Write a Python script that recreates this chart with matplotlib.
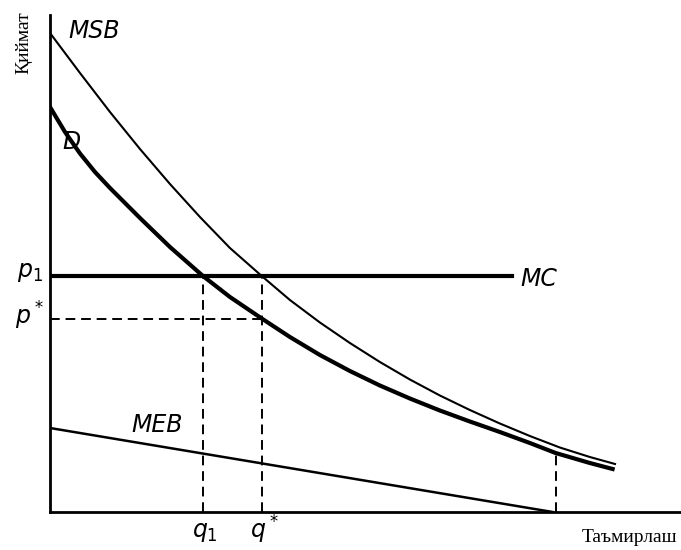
import numpy as np
from matplotlib import pyplot as plt

# kurvalar (miqdor q, narx p)
d_q = [0, 0.25, 0.5, 0.75, 1.0, 1.5, 2.0, 2.55, 3.0, 3.53, 4.0, 4.5, 5.0, 5.5,
       6.0, 6.5, 7.0, 7.5, 8.0, 8.43, 9.0, 9.38]
d_p = [8.10, 7.60, 7.17, 6.80, 6.48, 5.88, 5.30, 4.72, 4.30, 3.87, 3.50, 3.14,
       2.82, 2.53, 2.27, 2.03, 1.81, 1.60, 1.38, 1.18, 0.98, 0.86]

msb_q = [0, 0.5, 1.0, 1.5, 2.0, 2.5, 3.0, 3.53, 4.0, 4.5, 5.0, 5.5, 6.0, 6.5,
         7.0, 7.5, 8.0, 8.5, 9.0, 9.42]
msb_p = [9.58, 8.78, 8.00, 7.26, 6.56, 5.90, 5.28, 4.72, 4.24, 3.79, 3.38, 3.00,
         2.65, 2.33, 2.04, 1.77, 1.52, 1.29, 1.10, 0.96]

meb_q = [0, 8.38]
meb_p = [1.68, 0]

mc_q = [0, 7.7]
mc_p = [4.72, 4.72]

q1, qs, q_end = 2.55, 3.53, 8.43
p1, ps, p_end = 4.72, 3.87, 1.18

fig = plt.figure(figsize=(6.81, 5.5), dpi=100)
ax = fig.add_axes([50/681, 38/550, 631/681, 497/550])
ax.set_xlim(0, 10.52)
ax.set_ylim(0, 9.94)

ax.plot(msb_q, msb_p, '-k', lw=1.5)
ax.plot(d_q, d_p, '-k', lw=3)
ax.plot(mc_q, mc_p, '-k', lw=3)
ax.plot(meb_q, meb_p, '-k', lw=1.8)

dash = dict(color='k', lw=1.4, ls=(0, (5, 3)))
ax.plot([q1, q1], [0, p1], **dash)
ax.plot([qs, qs], [0, p1], **dash)
ax.plot([0, qs], [ps, ps], **dash)
ax.plot([q_end, q_end], [0, p_end], **dash)

lab = dict(fontsize=17, fontstyle='italic', color='k')
ax.text(0.3, 9.62, 'MSB', va='center', **lab)
ax.text(0.2, 7.4, 'D', va='center', **lab)
ax.text(7.85, 4.65, 'MC', va='center', **lab)
ax.text(1.35, 1.75, 'MEB', va='center', **lab)

ax.set_xticks([])
ax.set_yticks([])
for s in ['top', 'right']:
    ax.spines[s].set_visible(False)
ax.spines['left'].set_linewidth(2)
ax.spines['bottom'].set_linewidth(2)

tx = dict(fontsize=17, color='k', ha='center', va='center')
fig.text(30/681, 1 - 272/550, '$p_1$', **tx)
fig.text(30/681, 1 - 316/550, '$p^*$', **tx)
fig.text(205/681, 1 - 532/550, '$q_1$', **tx)
fig.text(265/681, 1 - 530/550, '$q^*$', **tx)

fig.text(630/681, 1 - 537/550, 'Таъмирлаш', fontsize=14, family='Liberation Serif',
         ha='center', va='center')
fig.text(24/681, 1 - 43/550, 'Қиймат', fontsize=14, family='Liberation Serif',
         rotation=90, ha='center', va='center')

plt.savefig('out.png', dpi=100)
